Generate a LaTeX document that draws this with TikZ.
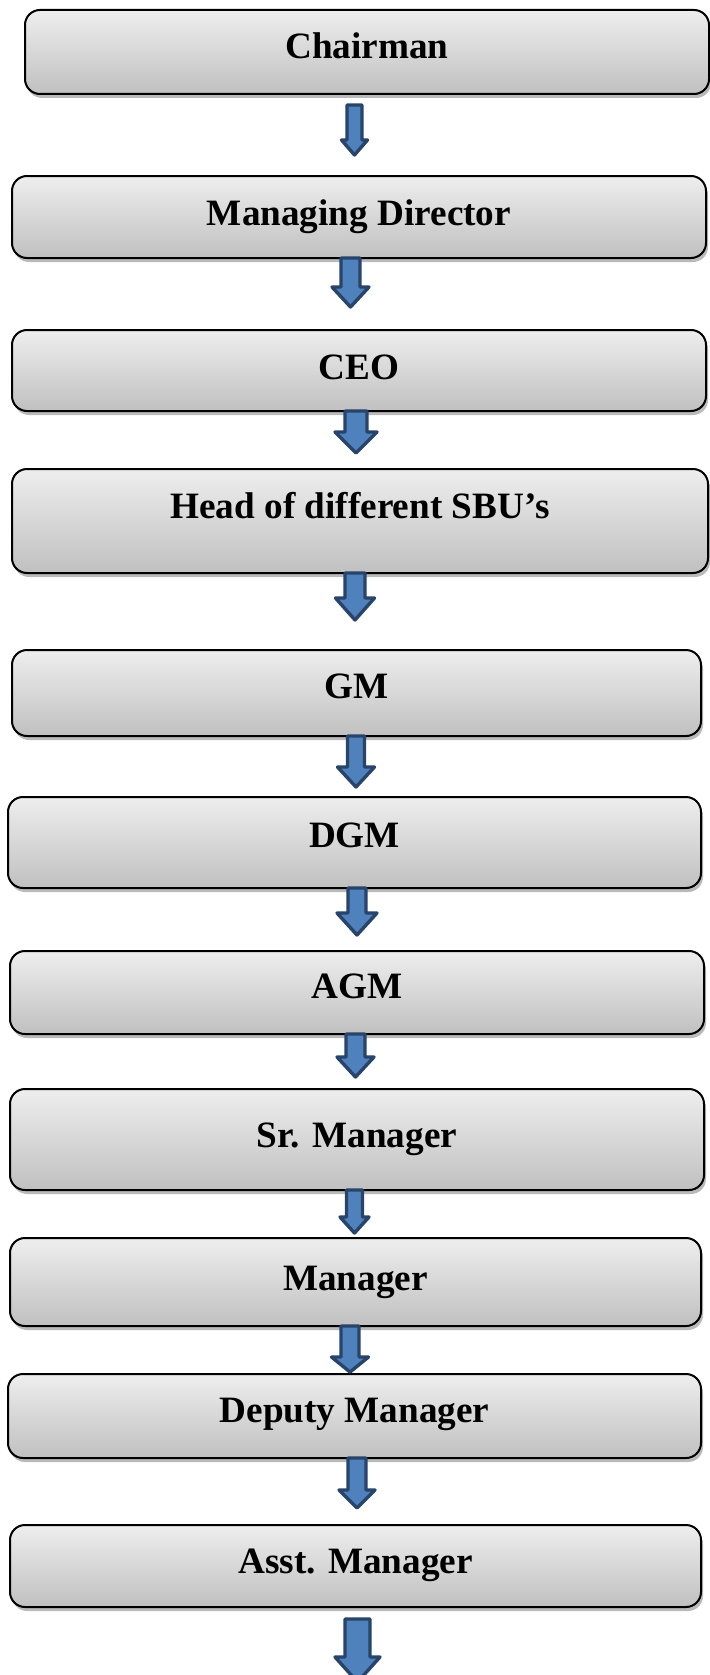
\documentclass[tikz,border=0pt]{standalone}
\usepackage{fontspec}
\setmainfont{Liberation Serif}
\usetikzlibrary{shadows,calc}

\definecolor{boxtop}{RGB}{238,238,238}
\definecolor{boxbottom}{RGB}{192,192,192}
\definecolor{arrowfill}{RGB}{79,129,189}
\definecolor{arrowedge}{RGB}{40,68,106}

\tikzset{
  post/.style={draw=black, line width=1pt, rounded corners=7.5pt,
    top color=boxtop, bottom color=boxbottom,
    inner sep=0pt, outer sep=0pt, anchor=base,
    font=\bfseries\fontsize{18.6}{22}\selectfont,
    drop shadow={shadow xshift=1pt, shadow yshift=-2pt, fill=black!45, opacity=0.6}},
  flowarrow/.style={fill=arrowfill, draw=arrowedge, line width=1.7pt, line join=round}
}

% a post: name, centre x, baseline y, width (pt), height above baseline (pt), depth below baseline (pt), title
\newcommand\post[7]{%
  \node[post, minimum width=#4pt, text height=#5pt, text depth=#6pt] (#1) at (#2,#3) {#7};}

% block arrow below a post: upper post, gap below it, centre x, shaft half width, head half width, head start y, tip y
\newcommand\flowdown[7]{%
  \coordinate (#1-tail) at ($(#1.south)+(0,#2)$);
  \draw[flowarrow] ({#3-#4},0 |- #1-tail) -- ({#3+#4},0 |- #1-tail) -- ({#3+#4},#6)
    -- ({#3+#5},#6) -- (#3,#7) -- ({#3-#5},#6) -- ({#3-#4},#6) -- cycle;}

\begin{document}
\begin{tikzpicture}[x=0.5pt, y=-0.5pt]
  \useasboundingbox (0,0) rectangle (710,1675);

  \post{chair}{367}{59}{342}{24.5}{17.5}{Chairman}
  \post{md}{359}{225}{347}{24.5}{16.5}{Managing Director}
  \post{ceo}{359}{379}{347}{24.5}{16}{CEO}
  \post{sbu}{360}{518}{348}{24.5}{27.5}{Head of different SBU’s}
  \post{gm}{356.5}{698}{344.5}{24}{19}{GM}
  \post{dgm}{354.5}{847}{346.5}{25}{20.5}{DGM}
  \post{agm}{357}{998}{347}{23.5}{18}{AGM}
  \post{sr}{357}{1147}{347}{29}{21.5}{Sr. Manager}
  \post{mgr}{355.5}{1290}{345.5}{26}{18}{Manager}
  \post{dep}{354.5}{1422}{346.5}{24}{18}{Deputy Manager}
  \post{asst}{355.5}{1573}{345.5}{24}{17}{Asst. Manager}

  \flowdown{chair}{11}{354.5}{7.5}{13}{140}{155}
  \flowdown{md}{0}{350.5}{9.5}{18.5}{287}{307}
  \flowdown{ceo}{0}{356}{11}{21}{432}{453}
  \flowdown{sbu}{0}{355}{10}{19.5}{598}{620}
  \flowdown{gm}{0}{356}{8.5}{18.5}{767}{787}
  \flowdown{dgm}{0}{357}{9}{20}{913}{935}
  \flowdown{agm}{0}{355.5}{9.5}{18.5}{1057}{1077}
  \flowdown{sr}{0}{354.5}{8}{14.5}{1217}{1233}
  \flowdown{mgr}{0}{350}{9}{18.5}{1357}{1372}
  \flowdown{dep}{0}{357}{9}{18}{1490}{1508}
  \flowdown{asst}{12}{357.5}{12.5}{22.5}{1657}{1682}
\end{tikzpicture}
\end{document}
